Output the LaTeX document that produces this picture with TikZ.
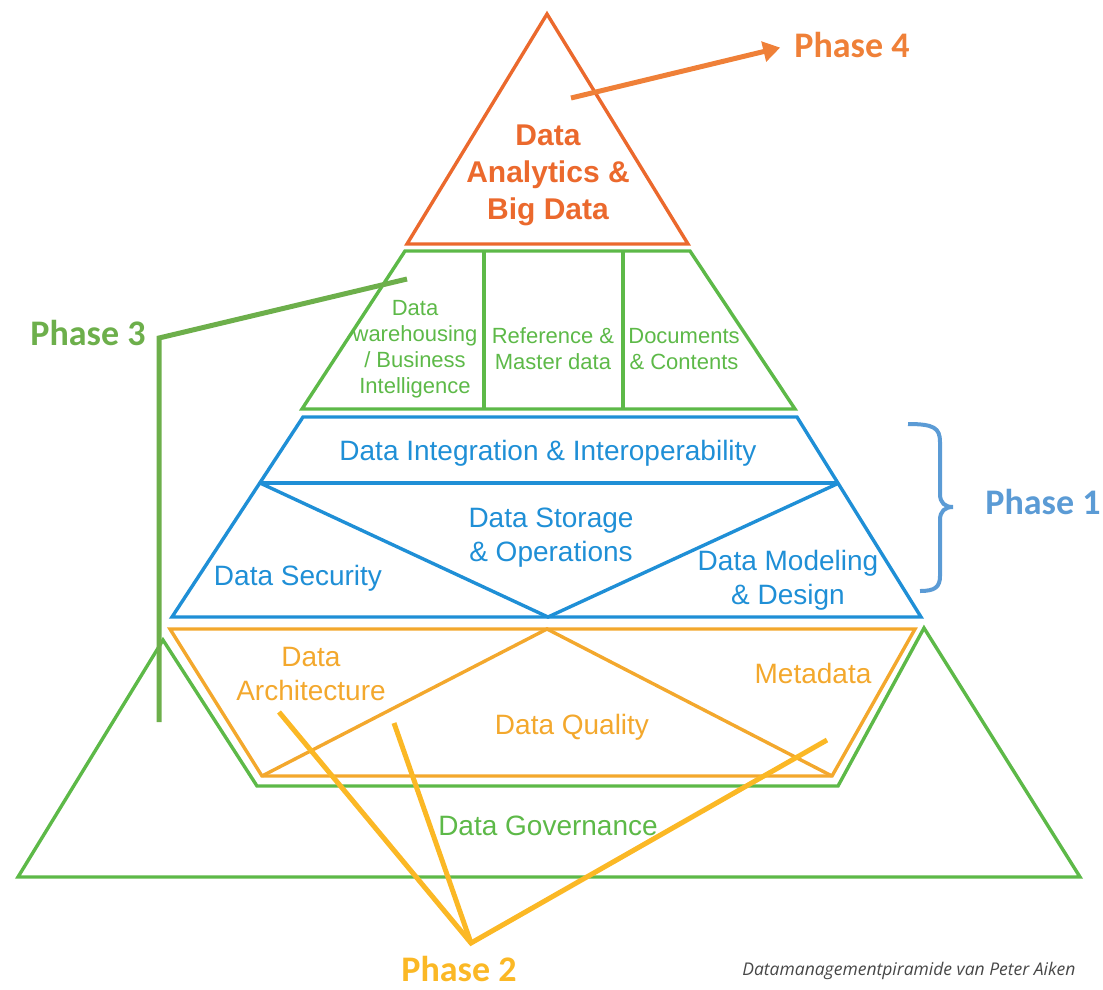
\documentclass[tikz,border=0pt]{standalone}
\usepackage{fontspec}
\setmainfont{Liberation Sans}
\newfontfamily\phasefont{Carlito}
\newfontfamily\notefont{Open Sans}
\usetikzlibrary{calc,arrows.meta}
\definecolor{topred}{HTML}{EB692D}
\definecolor{arrowred}{HTML}{EF8038}
\definecolor{leafgreen}{HTML}{5DB948}
\definecolor{phasegreen}{HTML}{6DAF4B}
\definecolor{seablue}{HTML}{1F8FD6}
\definecolor{phaseblue}{HTML}{5B9BD5}
\definecolor{amber}{HTML}{F3A82D}
\definecolor{gold}{HTML}{FBB825}
\tikzset{
x=1pt,y=-1pt,
layer/.style={line width=3.4pt,line join=miter},
pointer/.style={line width=5pt},
phase/.style={font=\phasefont\bfseries\fontsize{36}{40}\selectfont},
big/.style={font=\fontsize{28}{34}\selectfont,align=center},
small/.style={font=\fontsize{22}{26}\selectfont,align=center},
}

\begin{document}
\begin{tikzpicture}
\useasboundingbox (0,0) rectangle (1103,989);

% top: analytics
\draw[layer,topred] (547,14) -- (688,244) -- (407,244) -- cycle;
\node[align=center,text=topred,font=\bfseries\fontsize{30}{37}\selectfont] (bigdata) at (548,175) {Data\\Analytics \&\\Big Data};

% second tier
\draw[layer,leafgreen] (405,251) -- (690,251) -- (795,409) -- (302,409) -- cycle;
\draw[layer,leafgreen] (484,251) -- (484,409) (623,251) -- (623,409);
\node[small,text=leafgreen] (dwbi) at (415,349) {Data\\warehousing\\/ Business\\Intelligence};
\node[small,text=leafgreen] (refmaster) at (553,349) {Reference \&\\Master data};
\node[small,text=leafgreen] (docs) at (684,349) {Documents\\\& Contents};

% third tier
\draw[layer,seablue] (303,417) -- (797,417) -- (921,617) -- (172,617) -- cycle;
\draw[layer,seablue] (260,483) -- (839,483);
\draw[layer,seablue] (260,483) -- (548,617) -- (839,483);
\node[big,text=seablue] (integ) at (548,453) {Data Integration \& Interoperability};
\node[big,text=seablue] (storage) at (551,538) {Data Storage\\\& Operations};
\node[big,text=seablue] (security) at (298,578) {Data Security};
\node[big,text=seablue] (modeling) at (788,580) {Data Modeling\\\& Design};

% fourth tier
\draw[layer,amber] (170,629) -- (915,629) -- (832,776) -- (262,776) -- cycle;
\draw[layer,amber] (262,776) -- (547,629) -- (832,776);
\node[big,text=amber] (arch) at (311,674) {Data\\Architecture};
\node[big,text=amber] (quality) at (572,727) {Data Quality};
\node[big,text=amber] (meta) at (813,673) {Metadata};

% governance around the base
\draw[layer,leafgreen] (163,640) -- (18,877) -- (1080,877) -- (924,628) -- (838,786) -- (257,786) -- cycle;
\node[big,text=leafgreen] (gov) at (548,826) {Data Governance};

% phases
\node[phase,text=arrowred] (p4) at (852,45) {Phase 4};
\coordinate (p4from) at (571,98);
\draw[pointer,arrowred,-{Triangle[length=17pt,width=20pt]}] (p4from) -- (p4.west) [shorten >=11pt];

\node[phase,text=phasegreen] (p3) at (88,333) {Phase 3};
\coordinate (p3tip) at (407,279);
\coordinate (p3bend) at (159,338);
\coordinate (p3foot) at (159,722);
\draw[pointer,phasegreen] (p3tip) -- (p3bend) -- (p3foot);

\node[phase,text=phaseblue] (p1) at (1043,502) {Phase 1};
\draw[pointer,phaseblue,line width=4pt] (908,424) .. controls (934,424) and (940,428) .. (940,442) -- (940,494)
  .. controls (940,503) and (945,507) .. (953,507) .. controls (945,507) and (940,511) .. (940,520)
  -- (940,576) .. controls (940,587) and (935,591) .. (920,591);

\node[phase,text=gold] (p2) at (459,969) {Phase 2};
\coordinate (p2hub) at (471,943);
\coordinate (p2arch) at (279,712);
\coordinate (p2qual) at (394,723);
\coordinate (p2meta) at (827,740);
\draw[pointer,gold] (p2arch) -- (p2hub) -- (p2meta);
\draw[pointer,gold] (p2qual) -- (p2hub);

\node[anchor=east,text=black!72,font=\notefont\itshape\fontsize{17.5}{20}\selectfont] (credit) at (1079,971) {Datamanagementpiramide van Peter Aiken};
\end{tikzpicture}
\end{document}
